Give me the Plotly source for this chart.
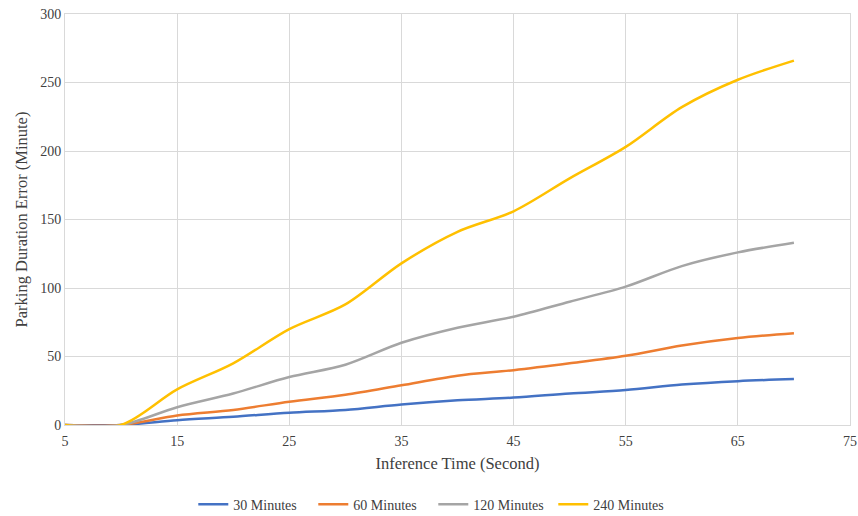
import plotly.graph_objects as go

# Inference time (seconds) and parking duration error (minutes) per parking duration
inference_time = [5, 10, 15, 20, 25, 30, 35, 40, 45, 50, 55, 60, 65, 70]
err_30 = [0, 0, 3.5, 6, 9, 11, 15, 18, 20, 23, 25.5, 29.5, 32, 33.5]
err_60 = [0, 0, 7, 11, 17, 22, 29, 36, 40, 45, 50.5, 58, 63.5, 67]
err_120 = [0, 0, 13, 23, 35, 44, 60, 71, 79, 90, 101, 116, 126, 133]
err_240 = [0, 0, 26, 45, 70, 88, 118, 141, 156, 180, 203, 232, 252, 266]

series = [
    ("30 Minutes", err_30, "#4472C4"),
    ("60 Minutes", err_60, "#ED7D31"),
    ("120 Minutes", err_120, "#A5A5A5"),
    ("240 Minutes", err_240, "#FFC000"),
]

x_ticks = [5, 15, 25, 35, 45, 55, 65, 75]
y_ticks = [0, 50, 100, 150, 200, 250, 300]

fig = go.Figure()
for name, vals, color in series:
    fig.add_trace(go.Scatter(
        x=inference_time, y=vals, name=name, mode="lines",
        line=dict(color=color, width=2.5, shape="spline", smoothing=0.9),
    ))

font = "Liberation Serif, Times New Roman, serif"
fig.update_layout(
    width=858, height=516,
    margin=dict(l=65, r=8, t=14, b=91),
    paper_bgcolor="white", plot_bgcolor="white",
    font=dict(family=font, size=14, color="#404040"),
    showlegend=True,
    legend=dict(
        orientation="h", xref="container", x=0.505, xanchor="center",
        yref="container", y=0.022, yanchor="middle",
        font=dict(family=font, size=14, color="#404040"),
        itemwidth=30, tracegroupgap=0, entrywidth=75,
    ),
    xaxis=dict(
        range=[5, 75], tickvals=x_ticks, ticktext=[str(v) for v in x_ticks],
        showgrid=True, gridcolor="#D9D9D9", gridwidth=1,
        zeroline=False, showline=True, linecolor="#D9D9D9", linewidth=1,
        ticks="", tickfont=dict(size=14, color="#404040"), ticklabelstandoff=3,
        title=dict(text="Inference Time (Second)", font=dict(size=16.5, color="#404040"), standoff=9),
        mirror=True, automargin=False,
    ),
    yaxis=dict(
        range=[0, 300], tickvals=y_ticks,
        showgrid=True, gridcolor="#D9D9D9", gridwidth=1,
        zeroline=False, showline=True, linecolor="#D9D9D9", linewidth=1,
        ticks="", tickfont=dict(size=14, color="#404040"),
        title=dict(text="Parking Duration Error (Minute)", font=dict(size=16.5, color="#404040"), standoff=8),
        mirror=True, automargin=False,
    ),
)

fig.write_html("out.html")
